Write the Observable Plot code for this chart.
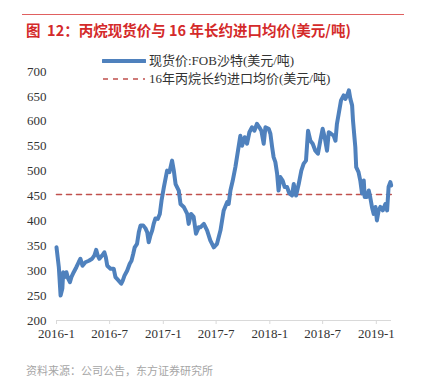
<!DOCTYPE html>
<html>
<head>
<meta charset="utf-8">
<script src="https://cdn.jsdelivr.net/npm/d3@7"></script>
<script src="https://cdn.jsdelivr.net/npm/@observablehq/plot@0.6"></script>
<style>
  html, body { margin: 0; padding: 0; background: #fff; }
  #wrap { position: relative; width: 422px; height: 378px; overflow: hidden; }
  #rule { position: absolute; top: 14px; left: 22px; width: 382px; border-top: 1.5px solid #e06060; }
  #title { position: absolute; top: 21px; left: 26px; font: bold 14.5px/18px "Noto Sans CJK SC", "Noto Sans", sans-serif; color: #d42a2a; white-space: pre; }
  #chart { position: absolute; top: 40px; left: 0; }
  #legend { position: absolute; top: 52px; left: 102px; font: 13px/18px "Liberation Serif", "Noto Sans CJK SC", serif; color: #333; }
  .item { display: flex; align-items: center; height: 18px; white-space: nowrap; }
  .item svg { margin-right: 3px; }
  #caption { position: absolute; top: 363px; left: 26px; font: 11px/14px "Noto Sans CJK SC", sans-serif; color: #a6a6a6; white-space: pre; }
</style>
</head>
<body>
<div id="wrap">
  <div id="rule"></div>
  <div id="title"></div>
  <div id="chart"></div>
  <div id="legend"></div>
  <div id="caption"></div>
</div>
<script>
const titleText = "图  12：丙烷现货价与 16 年长约进口均价(美元/吨)";
const captionText = "资料来源：公司公告，东方证券研究所";
const seriesNames = ["现货价:FOB沙特(美元/吨)", "16年丙烷长约进口均价(美元/吨)"];
const seriesColors = ["#4f81bd", "#c0504d"];

const dates = [
  "2016-01-01","2016-01-09","2016-01-15","2016-01-21","2016-01-24","2016-01-29","2016-02-04","2016-02-10",
  "2016-02-16","2016-02-21","2016-02-29","2016-03-09","2016-03-17","2016-03-23","2016-03-30","2016-04-09",
  "2016-04-21","2016-05-02","2016-05-10","2016-05-16","2016-05-21","2016-05-27","2016-06-06","2016-06-13",
  "2016-06-18","2016-06-23","2016-07-04","2016-07-15","2016-07-21","2016-08-01","2016-08-10","2016-08-15",
  "2016-08-21","2016-08-30","2016-09-08","2016-09-14","2016-09-20","2016-09-25","2016-10-03","2016-10-09",
  "2016-10-15","2016-10-24","2016-11-01","2016-11-07","2016-11-12","2016-11-18","2016-11-24","2016-11-29",
  "2016-12-05","2016-12-13","2016-12-20","2016-12-26","2017-01-03","2017-01-14","2017-01-22","2017-01-31",
  "2017-02-06","2017-02-12","2017-02-23","2017-03-01","2017-03-12","2017-03-24","2017-03-29","2017-04-06",
  "2017-04-15","2017-04-23","2017-05-02","2017-05-08","2017-05-20","2017-05-31","2017-06-11","2017-06-23",
  "2017-07-04","2017-07-16","2017-07-27","2017-08-08","2017-08-13","2017-08-19","2017-08-27","2017-09-05",
  "2017-09-14","2017-09-22","2017-09-28","2017-10-07","2017-10-15","2017-10-23","2017-11-01","2017-11-09",
  "2017-11-18","2017-11-26","2017-12-03","2017-12-11","2017-12-17","2017-12-28","2018-01-03","2018-01-09",
  "2018-01-14","2018-01-20","2018-01-26","2018-01-31","2018-02-06","2018-02-14","2018-02-21","2018-03-01",
  "2018-03-09","2018-03-18","2018-03-24","2018-04-01","2018-04-10","2018-04-19","2018-04-27","2018-05-05",
  "2018-05-12","2018-05-20","2018-05-28","2018-06-06","2018-06-15","2018-06-23","2018-07-01","2018-07-08",
  "2018-07-16","2018-07-22","2018-07-30","2018-08-08","2018-08-14","2018-08-19","2018-08-25","2018-09-02",
  "2018-09-11","2018-09-17","2018-09-25","2018-09-29","2018-10-04","2018-10-10","2018-10-13","2018-10-18",
  "2018-10-21","2018-10-24","2018-11-01","2018-11-07","2018-11-13","2018-11-19","2018-11-22","2018-11-30",
  "2018-12-06","2018-12-11","2018-12-17","2018-12-23","2018-12-29","2019-01-03","2019-01-09","2019-01-15",
  "2019-01-23","2019-02-01","2019-02-07","2019-02-12","2019-02-18","2019-02-21"
];
const prices = [
  347,307,250,264,297,287,297,284,
  277,287,297,307,317,324,310,317,
  320,324,331,342,331,324,331,337,
  327,310,304,304,287,280,274,280,
  290,300,314,320,334,347,354,377,
  391,391,385,377,357,371,381,394,
  405,404,414,441,468,501,498,521,
  501,474,461,434,428,414,394,414,
  408,374,387,387,394,381,361,347,
  354,381,421,438,434,461,481,508,
  541,571,551,568,555,578,588,581,
  595,588,581,555,588,585,575,548,
  528,518,495,461,488,481,468,468,
  455,451,474,451,474,501,515,521,
  581,561,555,541,535,561,585,568,
  541,578,575,571,561,595,615,642,
  652,645,655,662,645,632,602,568,
  548,508,498,481,455,481,448,448,
  461,448,428,414,428,401,421,428,
  421,434,421,468,478,471
];
const avgPrice = 453;
const yTicks = [200, 250, 300, 350, 400, 450, 500, 550, 600, 650, 700];
const xTickDates = ["2016-01-01","2016-07-01","2017-01-01","2017-07-01","2018-01-01","2018-07-01","2019-01-01"];
const xDomain = ["2016-01-01", "2019-02-22"];

const series = dates.map((d, i) => ({date: new Date(d), price: prices[i]}));
const avgLine = [
  {date: new Date(dates[0]), price: avgPrice},
  {date: new Date(dates[dates.length - 1]), price: avgPrice}
];

const chart = Plot.plot({
  width: 422,
  height: 305,
  marginLeft: 56,
  marginRight: 31,
  marginTop: 31,
  marginBottom: 25,
  style: {fontFamily: "'Liberation Serif', 'Noto Sans CJK SC', serif", fontSize: "13px", color: "#333", background: "transparent", overflow: "visible"},
  x: {type: "utc", domain: xDomain.map(d => new Date(d))},
  y: {domain: [200, 700]},
  marks: [
    Plot.axisY({ticks: yTicks, tickSize: 0, tickPadding: 10, label: null}),
    Plot.axisX({
      ticks: xTickDates.map(d => new Date(d)),
      tickFormat: d => `${d.getUTCFullYear()}-${d.getUTCMonth() + 1}`,
      tickSize: 4, tickPadding: 4, stroke: "#d9d9d9", label: null
    }),
    Plot.ruleY([200], {stroke: "#d9d9d9", strokeWidth: 1}),
    Plot.lineY(avgLine, {x: "date", y: "price", stroke: seriesColors[1], strokeWidth: 1.6, strokeDasharray: "5,5"}),
    Plot.lineY(series, {x: "date", y: "price", stroke: seriesColors[0], strokeWidth: 4, strokeLinejoin: "round", strokeLinecap: "round"})
  ]
});
document.getElementById("chart").appendChild(chart);
document.getElementById("title").textContent = titleText;
document.getElementById("caption").textContent = captionText;

const legend = document.getElementById("legend");
seriesNames.forEach((name, i) => {
  const item = document.createElement("div");
  item.className = "item";
  const dash = i === 1 ? 'stroke-dasharray="5,5" stroke-width="1.6"' : 'stroke-width="4"';
  item.innerHTML = `<svg width="44" height="10"><line x1="1" y1="5" x2="43" y2="5" stroke="${seriesColors[i]}" ${dash} stroke-linecap="${i === 1 ? 'butt' : 'round'}"/></svg><span></span>`;
  item.querySelector("span").textContent = name;
  legend.appendChild(item);
});
</script>
</body>
</html>
